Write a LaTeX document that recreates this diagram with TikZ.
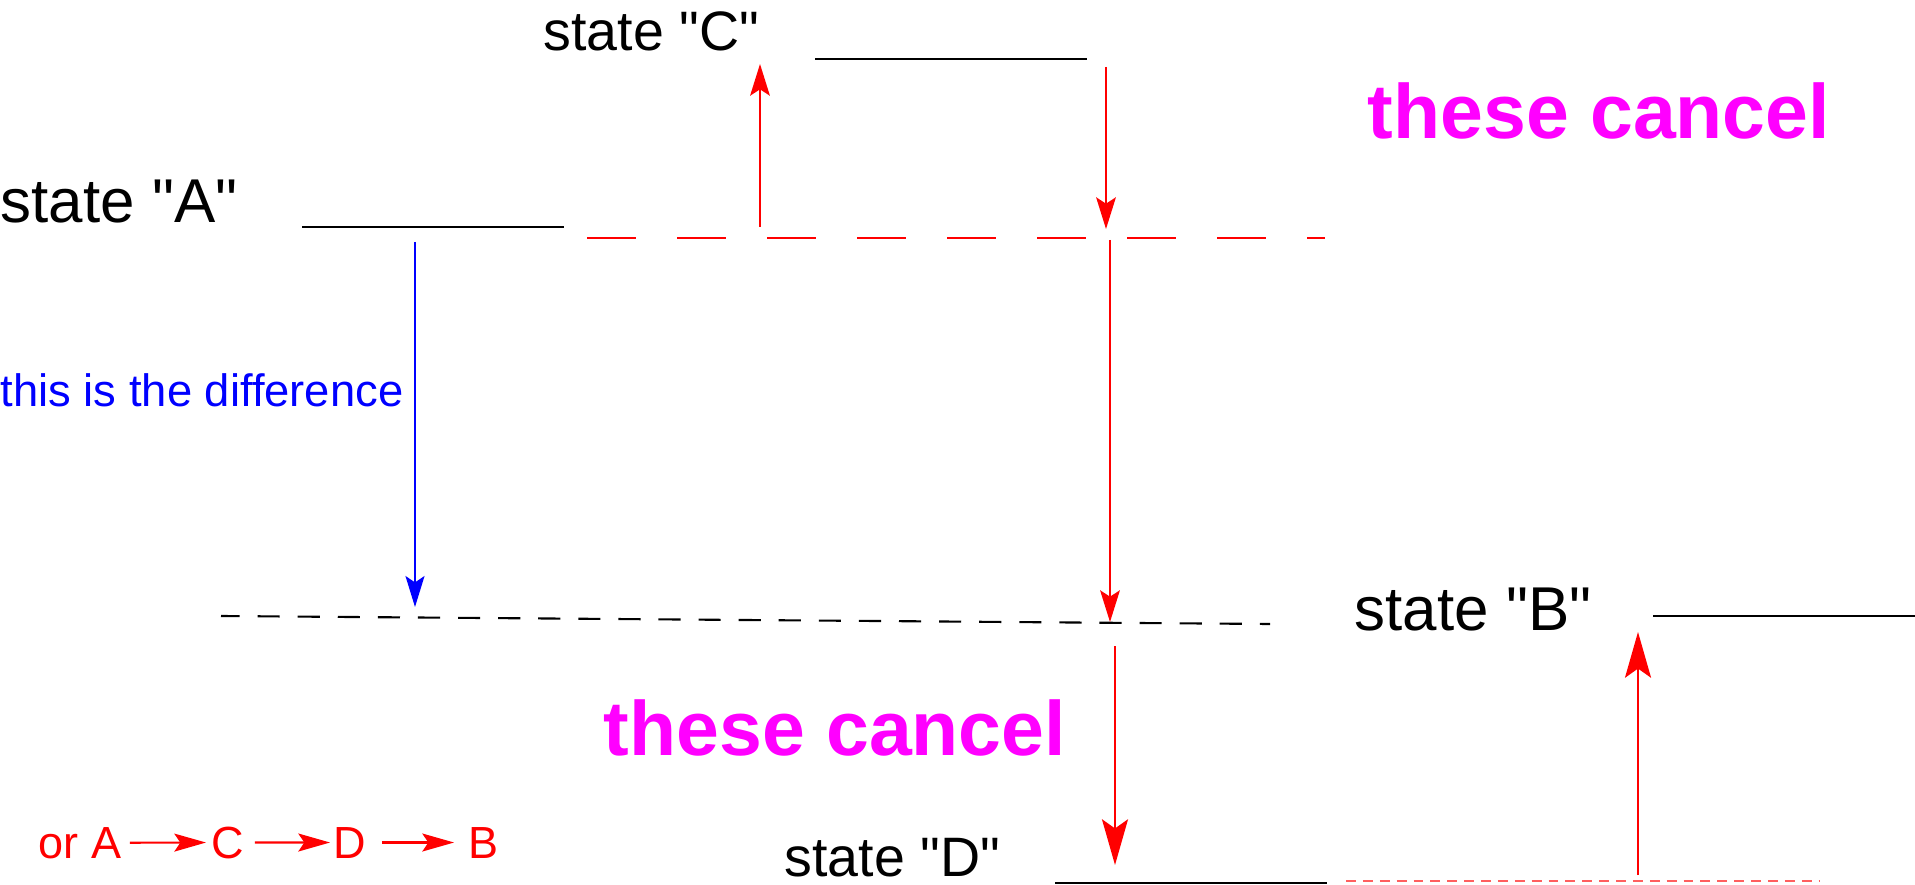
\documentclass[tikz,border=0pt]{standalone}
\usepackage{fontspec}
\setmainfont{Liberation Sans}
\usetikzlibrary{arrows.meta}
\definecolor{jumpred}{RGB}{255, 0, 0}
\definecolor{palered}{RGB}{255, 95, 95}
\definecolor{cancelpink}{RGB}{255, 0, 255}
\definecolor{diffblue}{RGB}{0, 0, 255}
\newcommand{\qq}[1]{\textquotedbl#1\textquotedbl}

\tikzset{
  level/.style={draw=black, line width=0.7pt},
  txt/.style={inner sep=0pt, anchor=base west},
  bigstate/.style={txt, font=\fontsize{17.6}{20}\selectfont},
  smallstate/.style={txt, font=\fontsize{15.8}{18}\selectfont},
  cancel/.style={txt, text=cancelpink, font=\fontsize{21.9}{24}\selectfont\bfseries},
  jump/.style={draw=jumpred, line width=0.6pt, -{Stealth[length=9pt, width=5.6pt, inset=1.8pt]}, jumpred},
  bigjump/.style={draw=jumpred, line width=0.6pt, -{Stealth[length=13pt, width=7.4pt, inset=2.6pt]}, jumpred},
}

\begin{document}
\begin{tikzpicture}[x=0.01cm, y=-0.01cm]
            \useasboundingbox (0, 0) rectangle (1915, 885);

            % levels
            \draw[level]                                         ( 302, 227) -- ( 564, 227);
            \draw[level]                                         ( 815,  59) -- (1087,  59);
            \draw[level]                                         (1653, 616) -- (1915, 616);
            \draw[level]                                         (1055, 883) -- (1327, 883);
            \draw[jumpred, line width=0.8pt, dash pattern=on 13.9pt off 11.7pt]  ( 587, 238) -- (1325, 238);
            \draw[black,   line width=0.6pt, dash pattern=on 6.3pt off 5.1pt, dash phase=1pt] ( 221, 616) -- (1270, 624);
            \draw[palered, line width=0.4pt, dash pattern=on 2.8pt off 2pt]  (1346, 881) -- (1820, 881);

            % labels
            \node[bigstate]   (stA) at (   0, 222) {state \qq{A}};
            \node[smallstate] (stC) at ( 543,  51) {state \qq{C}};
            \node[bigstate]   (stB) at (1354, 630) {state \qq{B}};
            \node[smallstate] (stD) at ( 784, 876) {state \qq{D}};
            \node[cancel]     (cancelTop) at (1367, 139) {these cancel};
            \node[cancel]     (cancelBot) at ( 603, 755) {these cancel};
            \node[txt, text=diffblue, font=\fontsize{12.9}{15}\selectfont] (diff) at (0, 406) {this is the difference};

            % jump ends
            \coordinate (aUp)   at ( 760, 227);  \coordinate (cTip)  at ( 760,  64);
            \coordinate (cDown) at (1106,  67);  \coordinate (vTip)  at (1106, 229);
            \coordinate (vDown) at (1110, 240);  \coordinate (hTip)  at (1110, 622);
            \coordinate (hDown) at (1115, 646);  \coordinate (dTip)  at (1115, 865);
            \coordinate (dUp)   at (1638, 875);  \coordinate (bTip)  at (1638, 632);
            \coordinate (aDiff) at ( 415, 242);  \coordinate (hDiff) at ( 415, 607);

            \draw[jump]    (aUp)   -- (cTip);
            \draw[jump]    (cDown) -- (vTip);
            \draw[jump]    (vDown) -- (hTip);
            \draw[bigjump] (hDown) -- (dTip);
            \draw[bigjump] (dUp)   -- (bTip);
            \draw[diffblue, line width=0.5pt, -{Stealth[length=8.8pt, width=5.4pt, inset=1.8pt]}] (aDiff) -- (hDiff);

            % other path
            \begin{scope}[every node/.style={txt, text=jumpred, font=\fontsize{12.8}{15}\selectfont},
                          seq/.style={draw=jumpred, line width=0.6pt, -{Stealth[length=9pt, width=5.1pt, inset=1.7pt]}, jumpred}]
              \node (orA) at ( 38, 858) {or A};
              \node (sC)  at (211, 858) {C};
              \node (sD)  at (333, 858) {D};
              \node (sB)  at (468, 858) {B};
              \draw[seq, shorten <=0.08cm, shorten >=0.05cm] (orA.east) -- (sC.west);
              \draw[seq, shorten <=0.10cm, shorten >=0.03cm] (sC.east)  -- (sD.west);
              \draw[seq, shorten <=0.15cm, shorten >=0.14cm] (sD.east)  -- (sB.west);
            \end{scope}
        \end{tikzpicture}
\end{document}
